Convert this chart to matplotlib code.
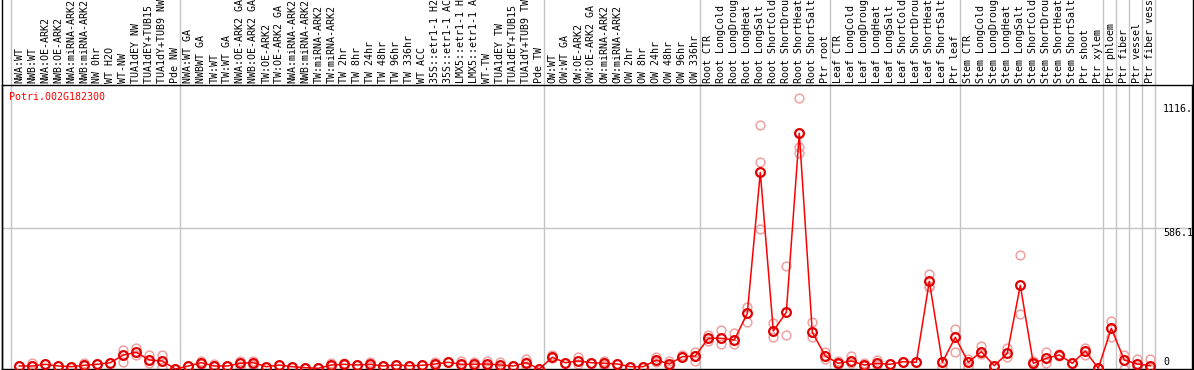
import numpy as np
import matplotlib
matplotlib.use("Agg")
import matplotlib.pyplot as plt
from matplotlib.lines import Line2D

gene = "Potri.002G182300"

labels = [
    # NW
    "NWA:WT", "NWB:WT", "NWA:OE-ARK2", "NWB:OE-ARK2", "NWA:miRNA-ARK2",
    "NWB:miRNA-ARK2", "NW 0hr", "WT H2O", "WT-NW", "TUA1dEY NW",
    "TUA1dEY+TUB15 NW", "TUA1dY+TUB9 NW", "Pde NW",
    # TW
    "NWA:WT GA", "NWBWT GA", "TW:WT", "TW:WT GA", "NWA:OE-ARK2 GA",
    "NWB:OE-ARK2 GA", "TW:OE-ARK2", "TW:OE-ARK2 GA", "NWA:miRNA-ARK2",
    "NWB:miRNA-ARK2", "TW:miRNA-ARK2", "TW:miRNA-ARK2", "TW 2hr", "TW 8hr",
    "TW 24hr", "TW 48hr", "TW 96hr", "TW 336hr", "WT ACC",
    "35S::etr1-1 H2O", "35S::etr1-1 ACC", "LMX5::etr1-1 H2O",
    "LMX5::etr1-1 ACC", "WT-TW", "TUA1dEY TW", "TUA1dEY+TUB15 TW",
    "TUA1dY+TUB9 TW", "Pde TW",
    # OW
    "OW:WT", "OW:WT GA", "OW:OE-ARK2", "OW:OE-ARK2 GA", "OW:miRNA-ARK2",
    "OW:miRNA-ARK2", "OW 2hr", "OW 8hr", "OW 24hr", "OW 48hr", "OW 96hr",
    "OW 336hr",
    # root
    "Root CTR", "Root LongCold", "Root LongDrought", "Root LongHeat",
    "Root LongSalt", "Root ShortCold", "Root ShortDrought", "Root ShortHeat",
    "Root ShortSalt", "Ptr root",
    # leaf
    "Leaf CTR", "Leaf LongCold", "Leaf LongDrought", "Leaf LongHeat",
    "Leaf LongSalt", "Leaf ShortCold", "Leaf ShortDrought", "Leaf ShortHeat",
    "Leaf ShortSalt", "Ptr leaf",
    # stem
    "Stem CTR", "Stem LongCold", "Stem LongDrought", "Stem LongHeat",
    "Stem LongSalt", "Stem ShortCold", "Stem ShortDrought", "Stem ShortHeat",
    "Stem ShortSalt", "Ptr shoot", "Ptr xylem",
    "Ptr phloem", "Ptr fiber", "Ptr vessel", "Ptr fiber vessel",
]

# index of first sample in each group (a grey line goes before it)
group_starts = [0, 13, 41, 53, 63, 73, 84, 85, 86, 87, 88]

means = [
    12.5, 12.5, 19.5, 12.5, 9.6, 15.4, 19.5, 26.2, 58.2, 69.4,
    37.4, 33.3, 0, 12.5, 26.2, 12.5, 12.5, 23.7, 26.2, 9.6,
    16.6, 9.6, 5.4, 2.9, 16.6, 19.5, 16.6, 19.5, 12.5, 16.6,
    13.7, 15.4, 20.8, 27.9, 19.5, 19.5, 20.8, 16.6, 12.5, 26.2,
    0, 48.6, 26.2, 33.3, 26.2, 23.7, 20.8, 9.6, 9.6, 37.4,
    20.8, 51.1, 54.0, 127.6, 127.6, 120.5, 231.5, 817.6, 158.0, 235.7,
    979.8, 152.6, 54.0, 23.7, 33.3, 16.6, 23.7, 19.5, 30.3, 27.9,
    364.5, 27.9, 131.8, 27.9, 71.9, 13.7, 65.3, 347.9, 23.7, 44.5,
    58.2, 23.7, 74.8, 2.9, 169.2, 37.4, 20.8, 13.7,
]

reps = [
    [12.5], [23.7, 12.5], [19.5, 19.5], [12.5], [9.6], [23.7, 12.5],
    [19.5, 19.5], [26.2], [79.0, 29.1], [88.5, 58.2], [58.2, 23.7],
    [58.2, 9.6], [0], [12.5], [33.3, 20.8], [19.5, 12.5], [12.5],
    [33.3, 12.5], [34.5, 16.6], [9.6], [16.6], [9.6], [5.4], [2.9],
    [23.7, 12.5], [23.7, 16.6], [16.6], [27.9, 12.5], [12.5], [16.6],
    [13.7], [15.4], [30.3, 16.6], [27.9], [34.5, 16.6], [30.3, 12.5],
    [33.3, 12.5], [30.3, 8.3], [12.5], [40.3, 29.1, 12.5], [0],
    [58.2, 45.7], [26.2], [48.6, 20.8], [26.2], [34.5, 16.6], [20.8],
    [9.6], [9.6], [51.1, 29.1], [34.5, 12.5], [58.2, 48.6],
    [71.9, 34.5, 54.0], [141.3, 116.4], [162.1, 102.7], [148.4, 105.2],
    [259.0, 194.1], [1014.3, 859.2, 582.0], [190.0, 131.8], [428.2, 141.3],
    [1125.3, 921.6, 896.6], [194.1, 131.8], [71.9, 40.3], [33.3, 20.8],
    [54.0, 23.7], [24.9, 12.5], [37.4, 18.7], [19.5], [30.3], [27.9],
    [393.7, 345.0, 338.8], [27.9, 9.6], [165.0, 69.4], [40.3, 8.3],
    [95.6, 62.4], [13.7], [88.5, 49.9], [473.9, 228.6], [33.3, 20.8],
    [69.4, 24.9], [62.4, 54.0], [23.7], [88.5, 58.2], [2.9],
    [200.8, 134.3], [58.2, 0], [40.3, 8.3], [40.3, 0],
]

ytick_vals = [0, 586.1, 1116]
ytick_text = ["0", "586.1", "1116."]

W, H = 1194, 370
fig = plt.figure(figsize=(W / 100, H / 100), dpi=100)
fig.patch.set_facecolor("white")

# plot box in pixels: x 2..1192, y 85..369 (from top)
ax = fig.add_axes([2 / W, (H - 369) / H, 1190 / W, 284 / H])
px_per_unit = (369 - 228) / 586.1
ax.set_ylim(0, 284 / px_per_unit)
# sample i sits at pixel 19.3 + 13*i
ax.set_xlim((2 - 19.3) / 13, (1192 - 19.3) / 13)
ax.set_xticks([])
ax.set_yticks([])
for s in ax.spines.values():
    s.set_color("black")
    s.set_linewidth(1)

grey = "#c4c4c4"
mono = "DejaVu Sans Mono"
fs = 7.2

x = np.arange(len(means))

# group separators run through the header too
top_ax = 369 / 284
for g in group_starts:
    ax.plot([g - 0.65, g - 0.65], [0, top_ax], color=grey, lw=1,
            transform=ax.get_xaxis_transform(), clip_on=False, zorder=1)
ax.axhline(586.1, color=grey, lw=1, zorder=1)

# replicates
for i, r in enumerate(reps):
    ax.plot([i] * len(r), r, "o", ms=6.3, mfc="none", mec="#f0a0a0",
            mew=1.1, clip_on=False, zorder=2)

ax.plot(x, means, "-", color="red", lw=1.1, zorder=3, clip_on=False)
ax.plot(x, means, "o", ms=6.3, mfc="none", mec="#e00000", mew=1.6,
        zorder=4, clip_on=False)

# header labels
for i, lab in enumerate(labels):
    ax.text(i, (369 - 83) / 284, lab, rotation=90, ha="center", va="bottom",
            family=mono, fontsize=fs, color="black",
            transform=ax.get_xaxis_transform(), clip_on=False)

ax.text(9.3 / W, 1 - 97 / H, gene, transform=fig.transFigure, ha="left",
        va="center", family=mono, fontsize=fs, color="red")

# value labels on the right
label_y = [362, 232.5, 109.5]
for t, yy in zip(ytick_text, label_y):
    fig.text(1163 / W, 1 - yy / H, t, ha="left", va="center",
             family=mono, fontsize=fs, color="black")

# outer frame sides reach the top of the image
fig.add_artist(Line2D([1.5 / W, 1.5 / W], [0, 1], color="black", lw=1))
fig.add_artist(Line2D([1192.5 / W, 1192.5 / W], [0, 1], color="black", lw=1))

fig.savefig("out.png", dpi=100)
